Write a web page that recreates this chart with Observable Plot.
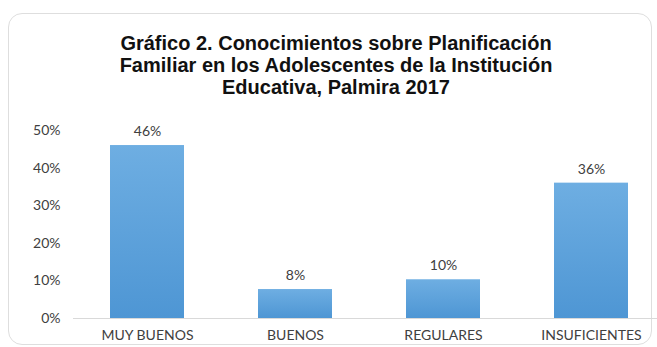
<!DOCTYPE html>
<html>
<head>
<meta charset="utf-8">
<script src="https://cdn.jsdelivr.net/npm/d3@7"></script>
<script src="https://cdn.jsdelivr.net/npm/@observablehq/plot@0.6"></script>
<style>
  html, body { margin: 0; padding: 0; background: #fff; }
  #wrap { position: relative; width: 657px; height: 347px; overflow: hidden; background: #fff; }
  #frame { position: absolute; left: 8px; top: 13px; width: 644px; height: 332px; border: 1.5px solid #dedede; border-radius: 14px; box-sizing: border-box; }
  #title { position: absolute; left: 0; top: 32px; width: 672px; text-align: center; font-family: "Liberation Sans", Arial, sans-serif; font-weight: bold; font-size: 20px; line-height: 22px; color: #111; }
  #chart { position: absolute; left: 0; top: 0; }
</style>
</head>
<body>
<div id="wrap">
  <div id="frame"></div>
  <div id="chart"></div>
  <div id="title">Gráfico 2. Conocimientos sobre Planificación<br>Familiar en los Adolescentes de la Institución<br>Educativa, Palmira 2017</div>
</div>
<script>
const categories = ["MUY BUENOS", "BUENOS", "REGULARES", "INSUFICIENTES"];
const values = [0.46, 0.077, 0.103, 0.36];
const valueLabels = ["46%", "8%", "10%", "36%"];
const yTicks = [0, 0.1, 0.2, 0.3, 0.4, 0.5];

const data = categories.map((c, i) => ({category: c, value: values[i], label: valueLabels[i]}));

const plot = Plot.plot({
  width: 657,
  height: 347,
  marginTop: 130,
  marginBottom: 29,
  marginLeft: 73,
  marginRight: -8,
  style: {fontFamily: "Lato, 'Open Sans', sans-serif", fontSize: "14px", color: "#404040", background: "transparent", overflow: "visible"},
  x: {domain: categories, paddingInner: 0.5, paddingOuter: 0.25, label: null},
  y: {domain: [0, 0.5], label: null},
  marks: [
    Plot.barY(data, {x: "category", y: "value", fill: "url(#barGrad)"}),
    Plot.ruleY([0], {stroke: "#d9d9d9", strokeWidth: 1.2}),
    Plot.text(data, {x: "category", y: "value", text: "label", dy: -14, fill: "#404040", fontSize: 14}),
    Plot.axisY({ticks: yTicks, tickFormat: d3.format(".0%"), tickSize: 0, tickPadding: 13, label: null, fill: "#404040", fontSize: 14}),
    Plot.axisX({tickSize: 0, tickPadding: 12, label: null, fill: "#404040", fontSize: 14})
  ]
});

const ns = "http://www.w3.org/2000/svg";
const defs = document.createElementNS(ns, "defs");
const grad = document.createElementNS(ns, "linearGradient");
grad.setAttribute("id", "barGrad");
grad.setAttribute("x1", "0"); grad.setAttribute("y1", "0");
grad.setAttribute("x2", "0"); grad.setAttribute("y2", "1");
[["0%", "#6eaee2"], ["100%", "#4e96d4"]].forEach(([o, c]) => {
  const s = document.createElementNS(ns, "stop");
  s.setAttribute("offset", o); s.setAttribute("stop-color", c);
  grad.appendChild(s);
});
defs.appendChild(grad);
plot.insertBefore(defs, plot.firstChild);
document.getElementById("chart").appendChild(plot);
</script>
</body>
</html>
